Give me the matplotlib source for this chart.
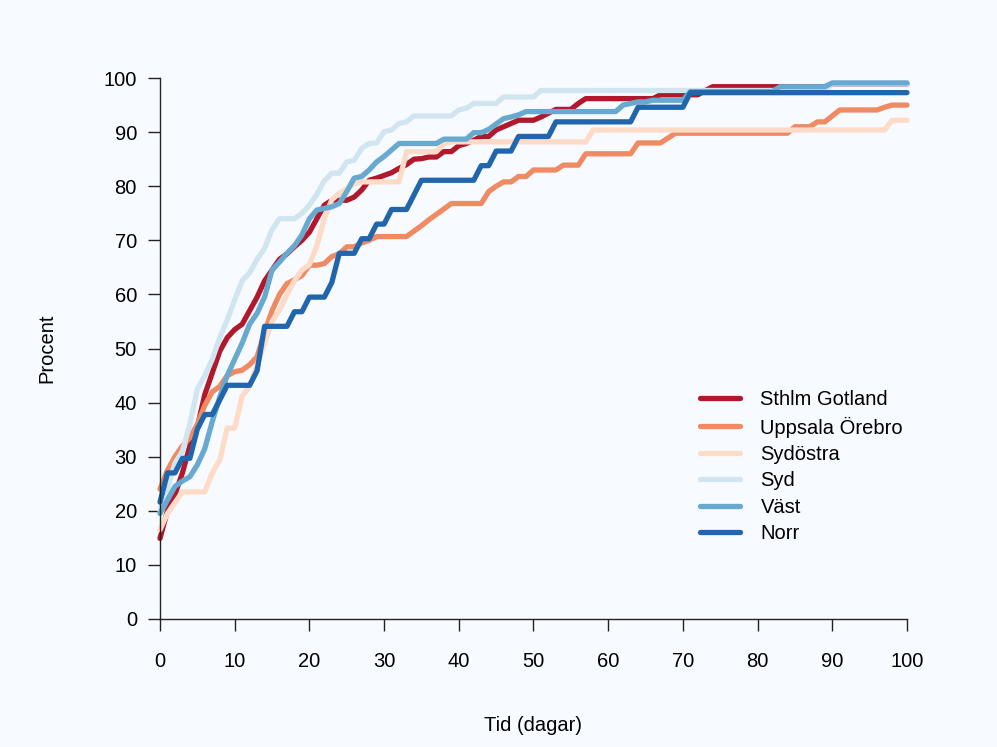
import numpy as np
import matplotlib.pyplot as plt

plt.rcParams['font.family'] = ['Liberation Sans', 'DejaVu Sans']

# andel (%) per region, dag 0..100
dagar = np.arange(0, 101)
regioner = ["Sthlm Gotland", "Uppsala Örebro", "Sydöstra", "Syd", "Väst", "Norr"]
farger = ["#B2182B", "#EF8A62", "#FDDBC7", "#D1E5F0", "#67A9CF", "#2166AC"]

sthlm_gotland = [14.9, 20.0, 23.0, 27.0, 32.0, 35.5, 41.5, 45.5, 49.5, 52.0,
                 53.5, 54.5, 57.0, 59.5, 62.5, 64.5, 66.5, 67.5, 68.8, 70.0,
                 71.5, 74.0, 76.5, 77.4, 77.4, 77.4, 78.0, 79.3, 81.1, 81.5,
                 82.0, 82.5, 83.3, 84.0, 85.0, 85.1, 85.4, 85.4, 86.4, 86.4,
                 87.5, 87.9, 88.5, 89.2, 89.2, 90.4, 91.0, 91.6, 92.2, 92.2,
                 92.2, 92.8, 93.5, 94.2, 94.2, 94.2, 95.3, 96.2, 96.2, 96.2,
                 96.2, 96.2, 96.2, 96.2, 96.2, 96.2, 96.2, 96.9, 96.9, 96.9,
                 96.9, 96.9, 96.9, 97.7, 98.4, 98.4, 98.4, 98.4, 98.4, 98.4,
                 98.4, 98.4, 98.4, 98.4, 98.4, 98.4, 98.4, 98.4, 98.4, 98.4,
                 98.9, 98.9, 98.9, 98.9, 98.9, 98.9, 98.9, 98.9, 98.9, 98.9,
                 98.9]

uppsala_orebro = [24.0, 27.5, 30.0, 32.0, 33.5, 36.0, 39.5, 42.0, 43.0, 45.0,
                  45.7, 46.0, 47.0, 48.5, 53.0, 57.0, 60.0, 62.0, 62.7, 63.5,
                  65.4, 65.4, 65.7, 67.0, 67.5, 68.8, 68.8, 69.5, 70.0, 70.7,
                  70.7, 70.7, 70.7, 70.7, 71.7, 72.7, 73.8, 74.8, 75.8, 76.8,
                  76.8, 76.8, 76.8, 76.8, 79.0, 80.0, 80.8, 80.8, 81.8, 81.8,
                  83.0, 83.0, 83.0, 83.0, 83.9, 83.9, 83.9, 86.0, 86.0, 86.0,
                  86.0, 86.0, 86.0, 86.0, 88.0, 88.0, 88.0, 88.0, 88.9, 89.8,
                  89.8, 89.8, 89.8, 89.8, 89.8, 89.8, 89.8, 89.8, 89.8, 89.8,
                  89.8, 89.8, 89.8, 89.8, 89.8, 91.0, 91.0, 91.0, 91.9, 91.9,
                  93.0, 94.1, 94.1, 94.1, 94.1, 94.1, 94.1, 94.6, 95.0, 95.0,
                  95.0]

sydostra = [16.5, 19.5, 21.5, 23.5, 23.5, 23.5, 23.5, 27.0, 29.4, 35.3,
            35.3, 41.2, 43.0, 47.0, 51.0, 55.0, 57.1, 60.0, 62.5, 64.5,
            65.5, 69.0, 74.0, 77.5, 78.7, 79.5, 80.5, 80.8, 80.8, 80.8,
            80.8, 80.8, 80.8, 86.4, 86.4, 86.4, 86.4, 86.4, 87.9, 88.2,
            88.2, 88.2, 88.2, 88.2, 88.2, 88.2, 88.2, 88.2, 88.2, 88.2,
            88.2, 88.2, 88.2, 88.2, 88.2, 88.2, 88.2, 88.2, 90.4, 90.4,
            90.4, 90.4, 90.4, 90.4, 90.4, 90.4, 90.4, 90.4, 90.4, 90.4,
            90.4, 90.4, 90.4, 90.4, 90.4, 90.4, 90.4, 90.4, 90.4, 90.4,
            90.4, 90.4, 90.4, 90.4, 90.4, 90.4, 90.4, 90.4, 90.4, 90.4,
            90.4, 90.4, 90.4, 90.4, 90.4, 90.4, 90.4, 90.4, 92.2, 92.2,
            92.2]

syd = [20.0, 24.0, 28.8, 31.0, 36.0, 42.5, 45.0, 48.0, 52.0, 55.3,
       59.0, 62.5, 64.0, 66.5, 68.5, 72.0, 74.0, 74.0, 74.0, 75.0,
       76.5, 78.5, 81.0, 82.4, 82.4, 84.5, 84.8, 87.0, 87.9, 88.0,
       90.1, 90.4, 91.6, 91.9, 93.0, 93.0, 93.0, 93.0, 93.0, 93.0,
       94.1, 94.4, 95.3, 95.3, 95.3, 95.3, 96.5, 96.5, 96.5, 96.5,
       96.5, 97.7, 97.7, 97.7, 97.7, 97.7, 97.7, 97.7, 97.7, 97.7,
       97.7, 97.7, 97.7, 97.7, 97.7, 97.7, 97.7, 97.7, 97.7, 97.7,
       97.7, 97.7, 97.7, 97.7, 97.7, 97.7, 97.7, 97.7, 97.7, 97.7,
       97.7, 97.7, 97.7, 97.7, 97.7, 97.7, 97.7, 97.7, 97.7, 97.7,
       98.9, 98.9, 98.9, 98.9, 98.9, 98.9, 98.9, 98.9, 98.9, 98.9,
       98.9]

vast = [19.5, 22.0, 24.5, 25.5, 26.3, 28.5, 31.5, 36.5, 41.0, 45.0,
        48.0, 51.0, 54.5, 56.5, 59.5, 64.5, 66.0, 67.6, 69.0, 71.0,
        74.0, 75.6, 75.9, 76.2, 76.8, 79.0, 81.5, 81.8, 83.0, 84.5,
        85.5, 86.7, 87.9, 87.9, 87.9, 87.9, 87.9, 87.9, 88.7, 88.7,
        88.7, 88.7, 89.9, 89.9, 90.5, 91.5, 92.5, 92.8, 93.2, 93.8,
        93.8, 93.8, 93.8, 93.8, 93.8, 93.8, 93.8, 93.8, 93.8, 93.8,
        93.8, 93.8, 95.0, 95.3, 95.6, 95.6, 95.9, 95.9, 95.9, 95.9,
        95.9, 97.5, 97.5, 97.5, 97.5, 97.5, 97.5, 97.5, 97.5, 97.5,
        97.5, 97.5, 97.5, 98.4, 98.4, 98.4, 98.4, 98.4, 98.4, 98.4,
        99.1, 99.1, 99.1, 99.1, 99.1, 99.1, 99.1, 99.1, 99.1, 99.1,
        99.1]

norr = [21.6, 27.0, 27.0, 29.7, 29.7, 35.1, 37.8, 37.8, 40.5, 43.2,
        43.2, 43.2, 43.2, 45.9, 54.1, 54.1, 54.1, 54.1, 56.8, 56.8,
        59.5, 59.5, 59.5, 62.2, 67.6, 67.6, 67.6, 70.3, 70.3, 73.0,
        73.0, 75.7, 75.7, 75.7, 78.4, 81.1, 81.1, 81.1, 81.1, 81.1,
        81.1, 81.1, 81.1, 83.8, 83.8, 86.5, 86.5, 86.5, 89.2, 89.2,
        89.2, 89.2, 89.2, 91.9, 91.9, 91.9, 91.9, 91.9, 91.9, 91.9,
        91.9, 91.9, 91.9, 91.9, 94.6, 94.6, 94.6, 94.6, 94.6, 94.6,
        94.6, 97.3, 97.3, 97.3, 97.3, 97.3, 97.3, 97.3, 97.3, 97.3,
        97.3, 97.3, 97.3, 97.3, 97.3, 97.3, 97.3, 97.3, 97.3, 97.3,
        97.3, 97.3, 97.3, 97.3, 97.3, 97.3, 97.3, 97.3, 97.3, 97.3,
        97.3]

serier = [sthlm_gotland, uppsala_orebro, sydostra, syd, vast, norr]

bg = "#F7FAFE"
fig = plt.figure(figsize=(9.97, 7.47), dpi=100, facecolor=bg)
ax = fig.add_axes([0.1305, 0.1424, 0.8092, 0.7821])
ax.set_facecolor(bg)

for namn, varden, farg in zip(regioner, serier, farger):
    ax.plot(dagar, varden, color=farg, lw=3.8, label=namn,
            solid_capstyle="round", solid_joinstyle="round")

ax.set_xlim(-4, 104)
ax.set_ylim(-4, 104)
ax.set_xticks(np.arange(0, 101, 10))
ax.set_yticks(np.arange(0, 101, 10))

# axlar som i R: bara vänster/nedre, från 0 till 100
for s in ["top", "right"]:
    ax.spines[s].set_visible(False)
for s in ["left", "bottom"]:
    ax.spines[s].set_position(("data", 0))
    ax.spines[s].set_bounds(0, 100)
    ax.spines[s].set_color("#222222")
    ax.spines[s].set_linewidth(1.0)

ax.tick_params(axis="both", direction="out", length=8.6, width=1.0,
               color="#222222", labelsize=14.5, labelcolor="black")
ax.tick_params(axis="x", pad=15)
ax.tick_params(axis="y", pad=8)

ax.set_xlabel("Tid (dagar)", fontsize=14.5)
ax.xaxis.set_label_coords(0.5, -0.146)
ax.xaxis.label.set_va("center")
ax.set_ylabel("Procent", fontsize=14.5)
ax.yaxis.set_label_coords(-0.103, 0.5)
ax.yaxis.label.set_va("center")

ax.legend(loc="upper left", bbox_to_anchor=(0.7064, 0.4290), frameon=False,
          fontsize=14.5, handlelength=2.0, handletextpad=1.0,
          labelspacing=0.37, borderpad=0, borderaxespad=0)

plt.savefig("out.png", dpi=100, facecolor=bg)
